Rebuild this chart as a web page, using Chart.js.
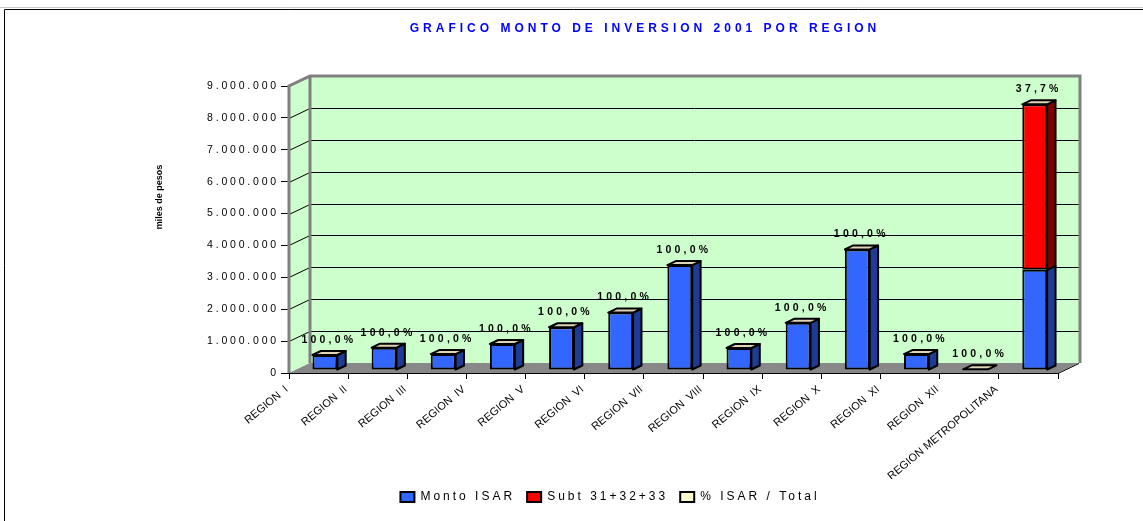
<!DOCTYPE html>
<html>
<head>
<meta charset="utf-8">
<script src="https://cdn.jsdelivr.net/npm/chart.js@4.4.1/dist/chart.umd.min.js"></script>
<style>
html,body{margin:0;padding:0;background:#fff;}
canvas{display:block;}
</style>
</head>
<body>
<canvas id="c" width="1143" height="521"></canvas>
<script>
// ---- data ----
const categories = ['REGION  I','REGION  II','REGION  III','REGION  IV','REGION  V','REGION  VI','REGION  VII','REGION  VIII','REGION  IX','REGION  X','REGION  XI','REGION  XII','REGION METROPOLITANA'];
const montoIsar = [470000, 700000, 500000, 815000, 1340000, 1800000, 3290000, 690000, 1480000, 3780000, 500000, 20000, 3140000];
const subt313233 = [null, null, null, null, null, null, null, null, null, null, null, null, 5190000];
const pctIsarTotal = [1, 1, 1, 1, 1, 1, 1, 1, 1, 1, 1, 1, 0.377];
const seriesNames = ['Monto ISAR', 'Subt 31+32+33', '% ISAR / Total'];
const chartTitle = 'GRAFICO MONTO DE INVERSION 2001 POR REGION';
const yAxisTitle = 'miles de pesos';
const yMax = 9000000, yStep = 1000000;

// ---- styling ----
Chart.defaults.font.family = "'Liberation Sans', Arial, sans-serif";
Chart.defaults.color = '#000';
const DX = 21, DY = -10;          // wall depth
const BF = 0.3, BB = 0.7;         // bar front / back depth fraction

function fmtThousands(v){ return String(Math.round(v)).replace(/\B(?=(\d{3})+(?!\d))/g, '.'); }
function fmtPct(p){ return (p*100).toFixed(1).replace('.', ',') + '%'; }

function spaced(obj, name, sp){
  if (!obj || obj['__sp_' + name]) return;
  const orig = obj[name];
  obj[name] = function(){
    const c = this.ctx; const prev = c.letterSpacing; c.letterSpacing = sp;
    try { return orig.apply(this, arguments); } finally { c.letterSpacing = prev; }
  };
  obj['__sp_' + name] = true;
}

const threeD = {
  id: 'threeD',
  beforeLayout(chart){
    spaced(chart.titleBlock, 'draw', '4px');
    spaced(chart.legend, 'fit', '3px');
    spaced(chart.legend, 'draw', '3px');
    spaced(chart.scales.y, 'drawLabels', '2.8px');
  },
  afterLayout(chart){
    const lg = chart.legend;
    lg.left -= 35; lg.right -= 35;
  },
  beforeDraw(chart){
    const ctx = chart.ctx;
    ctx.save();
    ctx.fillStyle = '#fff';
    ctx.fillRect(0, 0, chart.width, chart.height);
    ctx.strokeStyle = '#c8c8c8'; ctx.lineWidth = 1;
    ctx.beginPath(); ctx.moveTo(0, 7.5); ctx.lineTo(chart.width, 7.5); ctx.stroke();
    ctx.strokeStyle = '#000';
    ctx.beginPath(); ctx.moveTo(4.5, chart.height); ctx.lineTo(4.5, 9.5); ctx.lineTo(chart.width, 9.5); ctx.stroke();
    ctx.restore();
  },
  beforeDatasetsDraw(chart){
    const ctx = chart.ctx;
    const ys = chart.scales.y;
    const {left, right, top, bottom} = chart.chartArea;
    ctx.save();
    // side wall
    ctx.fillStyle = '#CCFFCC';
    ctx.beginPath();
    ctx.moveTo(left, top); ctx.lineTo(left + DX, top + DY); ctx.lineTo(left + DX, bottom + DY); ctx.lineTo(left, bottom);
    ctx.closePath(); ctx.fill();
    // back wall
    ctx.fillRect(left + DX, top + DY, right - left, bottom - top);
    // gridlines
    ctx.strokeStyle = '#000'; ctx.lineWidth = 1;
    ys.ticks.forEach(t => {
      if (t.value === 0) return;
      const py = Math.round(ys.getPixelForValue(t.value)) + 0.5;
      ctx.beginPath();
      ctx.moveTo(left, py); ctx.lineTo(left + DX, py + DY); ctx.lineTo(right + DX, py + DY);
      ctx.stroke();
    });
    // floor
    ctx.fillStyle = '#888888';
    ctx.beginPath();
    ctx.moveTo(left, bottom); ctx.lineTo(right, bottom); ctx.lineTo(right + DX, bottom + DY); ctx.lineTo(left + DX, bottom + DY);
    ctx.closePath(); ctx.fill();
    // wall borders
    ctx.strokeStyle = '#808080'; ctx.lineWidth = 3; ctx.lineJoin = 'miter';
    ctx.beginPath();
    ctx.moveTo(left, bottom); ctx.lineTo(left, top); ctx.lineTo(left + DX, top + DY); ctx.lineTo(right + DX + 1, top + DY);
    ctx.lineTo(right + DX + 1, bottom + DY);
    ctx.moveTo(left + DX, top + DY); ctx.lineTo(left + DX, bottom + DY);
    ctx.stroke();
    // floor front edge + right edge
    ctx.strokeStyle = '#000'; ctx.lineWidth = 1;
    ctx.beginPath();
    ctx.moveTo(left, bottom + 0.5); ctx.lineTo(right, bottom + 0.5); ctx.lineTo(right + DX, bottom + DY + 0.5);
    ctx.stroke();
    ctx.restore();
    // shift bars to their depth position
    ctx.save();
    ctx.translate(DX * BF, DY * BF);
  },
  afterDatasetsDraw(chart){
    const ctx = chart.ctx;
    const bdx = DX * (BB - BF), bdy = DY * (BB - BF);
    const sideColors = ['#1E3C96', '#800000'];
    ctx.save();
    ctx.strokeStyle = '#000'; ctx.lineWidth = 2; ctx.lineJoin = 'round';
    chart.data.datasets.forEach((ds, di) => {
      const meta = chart.getDatasetMeta(di);
      meta.data.forEach((el, i) => {
        if (ds.data[i] == null) return;
        const p = el.getProps(['x','y','base','width'], true);
        const L = p.x - p.width/2, R = p.x + p.width/2;
        const t = Math.min(p.y, p.base), b = Math.max(p.y, p.base);
        if (di < 2) {
          if (b - t <= 0.2) return;
          ctx.fillStyle = sideColors[di];
          ctx.beginPath();
          ctx.moveTo(R, t); ctx.lineTo(R + bdx, t + bdy); ctx.lineTo(R + bdx, b + bdy); ctx.lineTo(R, b);
          ctx.closePath(); ctx.fill(); ctx.stroke();
        } else {
          ctx.fillStyle = '#DDD6B5';
          ctx.beginPath();
          ctx.moveTo(L, t); ctx.lineTo(L + bdx, t + bdy); ctx.lineTo(R + bdx, t + bdy); ctx.lineTo(R, t);
          ctx.closePath(); ctx.fill(); ctx.stroke();
        }
      });
    });
    ctx.restore();
    ctx.restore(); // undo translate
    // data labels of the % series
    const meta = chart.getDatasetMeta(2);
    ctx.save();
    ctx.font = "bold 10.5px 'Liberation Sans', Arial, sans-serif";
    ctx.letterSpacing = '3.2px';
    ctx.fillStyle = '#000'; ctx.textAlign = 'center'; ctx.textBaseline = 'middle';
    meta.data.forEach((el, i) => {
      const p = el.getProps(['x','y'], true);
      ctx.fillText(fmtPct(pctIsarTotal[i]), p.x + DX*BF + 4, p.y + DY*BF - 15);
    });
    ctx.restore();
  },
  afterDraw(chart){
    const ctx = chart.ctx;
    ctx.save();
    ctx.translate(160, 197);
    ctx.rotate(-Math.PI/2);
    ctx.font = "bold 9px 'Liberation Sans', Arial, sans-serif";
    ctx.fillStyle = '#000'; ctx.textAlign = 'center'; ctx.textBaseline = 'middle';
    ctx.fillText(yAxisTitle, 0, 0);
    ctx.restore();
  }
};

const PAD_BOTTOM = 8;
new Chart(document.getElementById('c').getContext('2d'), {
  type: 'bar',
  data: {
    labels: categories,
    datasets: [
      {label: seriesNames[0], data: montoIsar, backgroundColor: '#3366FF', borderColor: '#000', borderWidth: 2, borderSkipped: false, stack: 's', clip: false},
      {label: seriesNames[1], data: subt313233, backgroundColor: '#FF0000', borderColor: '#000', borderWidth: 2, borderSkipped: false, stack: 's', clip: false},
      {label: seriesNames[2], data: pctIsarTotal, backgroundColor: '#FFFFCC', borderColor: '#000', borderWidth: 2, borderSkipped: false, stack: 's', clip: false}
    ]
  },
  options: {
    responsive: false,
    animation: false,
    devicePixelRatio: 1,
    categoryPercentage: 1,
    barPercentage: 0.42,
    layout: {padding: {left: 150, right: 3, top: 10, bottom: PAD_BOTTOM}},
    plugins: {
      title: {display: true, text: chartTitle, color: '#0000FF', font: {size: 12, weight: 'bold'}, padding: {top: 11, bottom: 50.6}},
      legend: {position: 'bottom', labels: {color: '#000', font: {size: 12}, boxWidth: 14, boxHeight: 10, padding: 12}},
      tooltip: {enabled: false}
    },
    scales: {
      x: {
        stacked: true,
        grid: {display: true, drawOnChartArea: false, drawTicks: true, tickLength: 6, color: '#000', offset: true},
        border: {display: false},
        ticks: {autoSkip: false, minRotation: 40, maxRotation: 40, labelOffset: -32, padding: 4, color: '#000', font: {size: 11}},
        afterFit(s){ s.height = 521 - PAD_BOTTOM - s.chart.legend.height - 373; }
      },
      y: {
        stacked: true, min: 0, max: yMax,
        ticks: {stepSize: yStep, callback: v => fmtThousands(v), padding: 2, color: '#000', font: {size: 10.5}},
        grid: {drawOnChartArea: false, drawTicks: true, tickLength: 8, color: '#000'},
        border: {display: false},
        afterFit(s){ s.width = 139; }
      },
      y2: {
        position: 'right', display: true,
        grid: {display: false}, border: {display: false}, ticks: {display: false},
        afterFit(s){ s.width = 82; }
      }
    }
  },
  plugins: [threeD]
});
</script>
</body>
</html>
